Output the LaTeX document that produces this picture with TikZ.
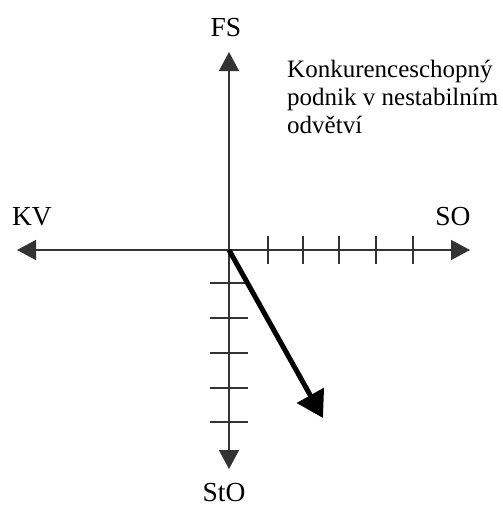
\documentclass[tikz,border=0pt]{standalone}
\usepackage{fontspec}
\setmainfont{Liberation Serif}
\usetikzlibrary{arrows.meta}
\begin{document}
\begin{tikzpicture}[x=1pt,y=-1pt,
  axis/.style={line width=1.4pt,draw=black!80},
  tick/.style={line width=1.3pt,draw=black!80},
  vec/.style={line width=5pt,-{Triangle[length=26pt,width=30pt]}},
  axlabel/.style={inner sep=0pt,font=\fontsize{27.5}{32}\selectfont},
  note/.style={inner sep=0pt,align=left,font=\fontsize{25}{28}\selectfont}]
\useasboundingbox (0,0) rectangle (503,506);
\coordinate (O) at (229,250);
\coordinate (top) at (229,52);
\coordinate (bot) at (229,469);
\coordinate (left) at (17,250);
\coordinate (right) at (470,250);
\coordinate (vt) at (323,418);
% axes
\draw[axis,{Triangle[length=19pt,width=20pt]}-{Triangle[length=19pt,width=20pt]}] (left) -- (right);
\draw[axis,{Triangle[length=19pt,width=20pt]}-{Triangle[length=19pt,width=20pt]}] (top) -- (bot);
% ticks on SO axis
\foreach \x in {268,303,339,376,413}{
  \draw[tick] (\x,236) -- (\x,264);
}
% ticks on StO axis
\foreach \y in {283,318,353,388,422}{
  \draw[tick] (210,\y) -- (248,\y);
}
% vector
\draw[vec] (O) -- (vt);
% labels
\node[axlabel] (fs) at (226,28) {FS};
\node[axlabel] (kv) at (32,217) {KV};
\node[axlabel] (so) at (453,217) {SO};
\node[axlabel,text depth=0pt,anchor=base] (sto) at (224,501) {StO};
\node[note,anchor=north west] (txt) at (287,60) {Konkurenceschopný\\podnik v nestabilním\\odvětví};
\end{tikzpicture}
\end{document}
